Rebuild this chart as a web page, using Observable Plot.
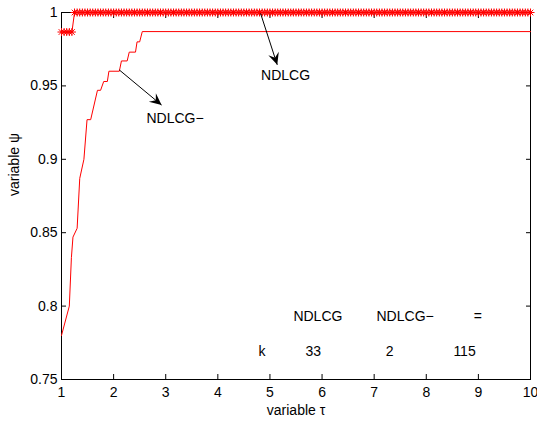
<!DOCTYPE html>
<html><head><meta charset="utf-8">
<script src="https://cdn.jsdelivr.net/npm/d3@7"></script>
<script src="https://cdn.jsdelivr.net/npm/@observablehq/plot@0.6"></script>
<style>body{margin:0;background:#fff}</style>
</head><body><div id="chart"></div>
<script>
// ---- data ----
const xTicks = [1, 2, 3, 4, 5, 6, 7, 8, 9, 10];
const yTicks = [0.75, 0.8, 0.85, 0.9, 0.95, 1];
const yTickLabels = ["0.75", "0.8", "0.85", "0.9", "0.95", "1"];

// NDLCG: sampled on a regular tau grid (start, step, count), psi as runs [value, count]
const tauStart = 1, tauStep = 0.05, tauCount = 181;
const ndlcgRuns = [[0.9867, 5], [1, 176]];

// NDLCG− profile vertices
const minusTau = [1.00, 1.15, 1.19, 1.22, 1.30, 1.35, 1.43, 1.49, 1.56, 1.69, 1.75, 1.81, 1.88, 1.91, 2.11, 2.15, 2.26, 2.30, 2.42, 2.45, 2.50, 2.55, 10];
const minusPsi = [0.780, 0.800, 0.833, 0.847, 0.853, 0.887, 0.900, 0.927, 0.927, 0.947, 0.947, 0.953, 0.953, 0.960, 0.960, 0.967, 0.967, 0.973, 0.973, 0.980, 0.980, 0.987, 0.987];

// annotations
const arrowFrom = [[4.83, 0.999], [2.12, 0.9605]];
const arrowTo = [[5.15, 0.964], [2.93, 0.9366]];
const arrowLabels = ["NDLCG", "NDLCG\u2212"];
const arrowLabelX = [4.83, 2.63];
const arrowLabelY = [0.957, 0.928];

const tableText = ["NDLCG", "NDLCG\u2212", "=", "k", "33", "2", "115"];
const tableX = [5.45, 7.045, 8.91, 4.78, 5.68, 7.22, 8.52];
const tableY = [0.7929, 0.7929, 0.7929, 0.7691, 0.7691, 0.7691, 0.7691];

// ---- build tables ----
const ndlcgPsi = ndlcgRuns.flatMap(([v, n]) => Array(n).fill(v));
const ndlcg = ndlcgPsi.map((psi, i) => ({tau: tauStart + i * tauStep, psi}));
const minus = minusTau.map((tau, i) => ({tau, psi: minusPsi[i]}));
const arrowLabelData = arrowLabels.map((t, i) => ({t, x: arrowLabelX[i], y: arrowLabelY[i]}));
const tableData = tableText.map((t, i) => ({t, x: tableX[i], y: tableY[i]}));

const asterisk = {
  draw(ctx, size) {
    const r = Math.sqrt(size / Math.PI);
    const d = r * Math.SQRT1_2;
    ctx.moveTo(-r, 0); ctx.lineTo(r, 0);
    ctx.moveTo(0, -r); ctx.lineTo(0, r);
    ctx.moveTo(-d, -d); ctx.lineTo(d, d);
    ctx.moveTo(-d, d); ctx.lineTo(d, -d);
  }
};

function arrows(index, scales) {
  const g = d3.create("svg:g");
  arrowFrom.forEach((f, i) => {
    const t = arrowTo[i];
    const x1 = scales.x(f[0]), y1 = scales.y(f[1]);
    const x2 = scales.x(t[0]), y2 = scales.y(t[1]);
    const a = Math.atan2(y2 - y1, x2 - x1) * 180 / Math.PI;
    g.append("line")
      .attr("x1", x1).attr("y1", y1).attr("x2", x2).attr("y2", y2)
      .attr("stroke", "black").attr("stroke-width", 1);
    g.append("path")
      .attr("d", "M0,0L-12,-5.5L-7.5,0L-12,5.5Z")
      .attr("transform", `translate(${x2},${y2}) rotate(${a})`)
      .attr("fill", "black");
  });
  return g.node();
}

const fontFamily = "'Liberation Sans', Arial, Helvetica, sans-serif";

const plot = Plot.plot({
  width: 537,
  height: 424,
  marginLeft: 61,
  marginRight: 7,
  marginTop: 12,
  marginBottom: 45,
  style: {fontSize: "14px", fontFamily, color: "black", background: "white"},
  x: {domain: [1, 10]},
  y: {domain: [0.75, 1]},
  marks: [
    Plot.frame({stroke: "black", strokeWidth: 1}),
    Plot.axisX(xTicks, {anchor: "bottom", tickSize: 0, tickPadding: 8, label: null, tickFormat: d => String(d)}),
    Plot.axisX(xTicks, {anchor: "bottom", tickSize: -5, tickFormat: () => "", label: null}),
    Plot.axisX(xTicks, {anchor: "top", tickSize: -5, tickFormat: () => "", label: null}),
    Plot.axisY(yTicks, {anchor: "left", tickSize: 0, tickPadding: 4, label: null, tickFormat: (d, i) => yTickLabels[i]}),
    Plot.axisY(yTicks, {anchor: "left", tickSize: -5, tickFormat: () => "", label: null}),
    Plot.axisY(yTicks, {anchor: "right", tickSize: -5, tickFormat: () => "", label: null}),
    Plot.line(minus, {x: "tau", y: "psi", stroke: "#ff0000", strokeWidth: 1}),
    Plot.line(ndlcg, {x: "tau", y: "psi", stroke: "#ff0000", strokeWidth: 1}),
    Plot.dot(ndlcg, {x: "tau", y: "psi", symbol: asterisk, r: 4, stroke: "#ff0000", strokeWidth: 1, fill: "none"}),
    arrows,
    Plot.text(arrowLabelData, {x: "x", y: "y", text: "t", textAnchor: "start", fontSize: 14, fill: "black"}),
    Plot.text(tableData, {x: "x", y: "y", text: "t", textAnchor: "start", fontSize: 14, fill: "black"}),
    Plot.text(["variable \u03c4"], {frameAnchor: "bottom", dy: 35, text: d => d, fontSize: 14, fill: "black"}),
    Plot.text(["variable \u03c8"], {frameAnchor: "left", dx: -47, rotate: -90, text: d => d, fontSize: 14, fill: "black"})
  ]
});
document.getElementById("chart").appendChild(plot);
</script>
</body></html>
